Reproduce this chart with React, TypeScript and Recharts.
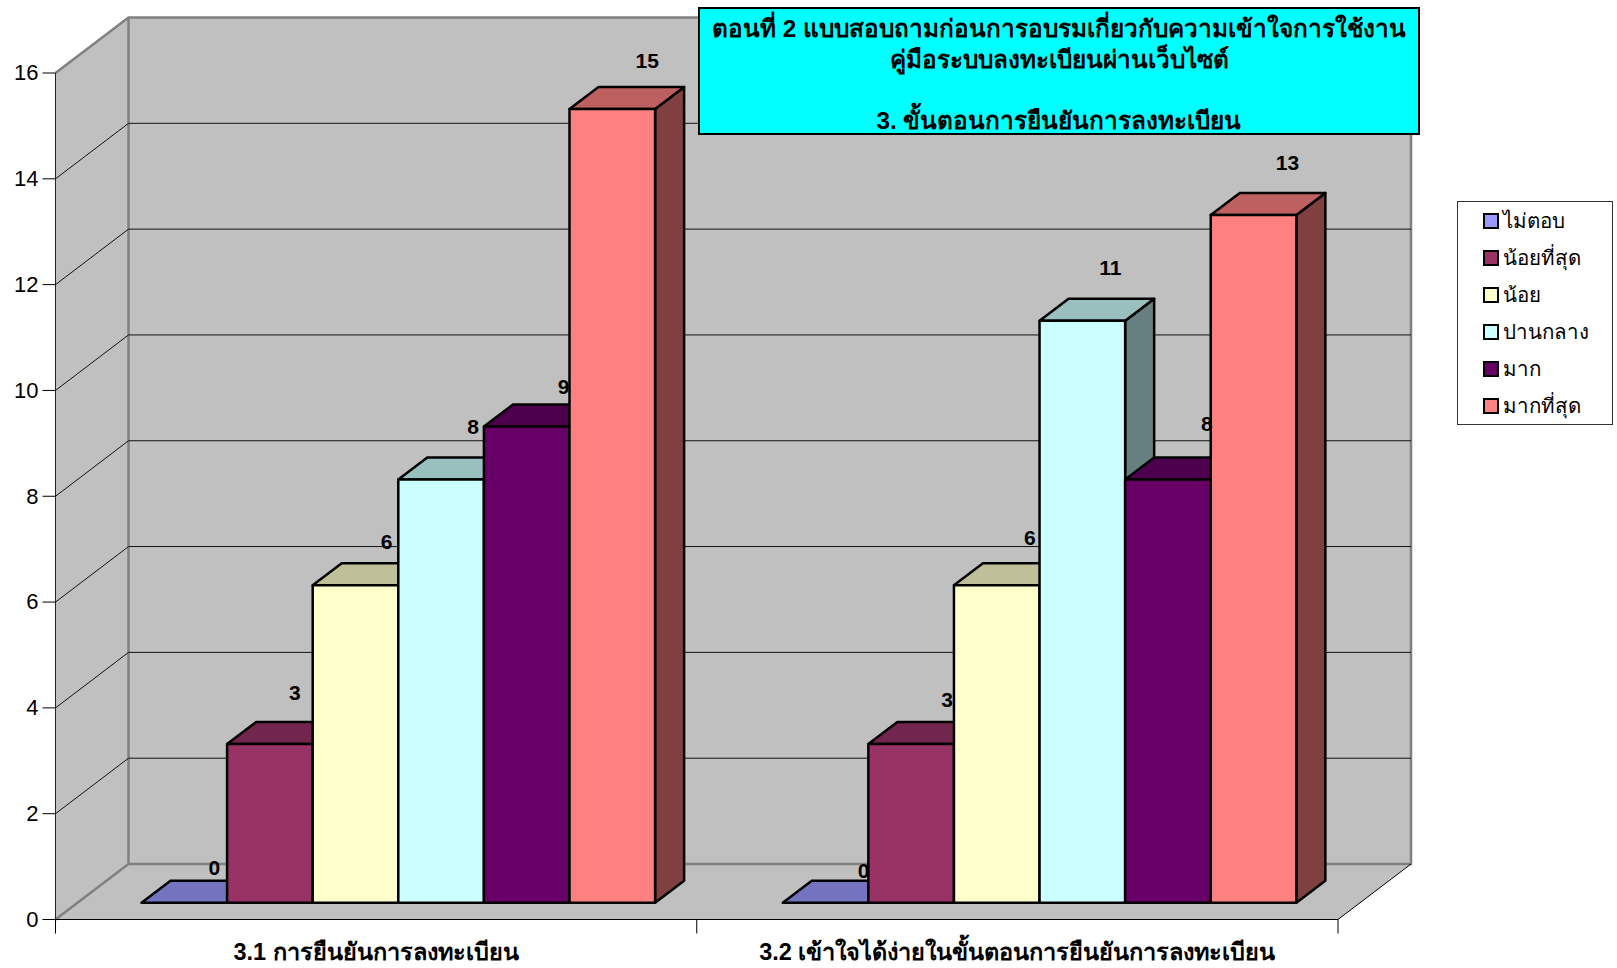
import { BarChart, Bar, XAxis, YAxis, CartesianGrid, Legend, LabelList, usePlotArea } from "recharts";

const categories = [
  "3.1 การยืนยันการลงทะเบียน",
  "3.2 เข้าใจได้ง่ายในขั้นตอนการยืนยันการลงทะเบียน",
];
const seriesNames = ["ไม่ตอบ", "น้อยที่สุด", "น้อย", "ปานกลาง", "มาก", "มากที่สุด"];
const noAnswer = [0, 0];
const leastValues = [3, 3];
const lowValues = [6, 6];
const mediumValues = [8, 11];
const highValues = [9, 8];
const highestValues = [15, 13];
const seriesValues = [noAnswer, leastValues, lowValues, mediumValues, highValues, highestValues];
const seriesColors = ["#9999FF", "#993366", "#FFFFCC", "#CCFFFF", "#660066", "#FF8080"];
const yTicks = [0, 2, 4, 6, 8, 10, 12, 14, 16];

const titleLines = [
  "ตอนที่ 2 แบบสอบถามก่อนการอบรมเกี่ยวกับความเข้าใจการใช้งาน",
  "คู่มือระบบลงทะเบียนผ่านเว็บไซต์",
  "\u00a0",
  "3. ขั้นตอนการยืนยันการลงทะเบียน",
];

// where the labels sit relative to the top centre of each bar: [dx, dy] per category
const labelNudges = [
  [[30, -35], [38, -32]],
  [[25, -51], [36, -44]],
  [[31, -44], [33, -48]],
  [[32, -53], [28, -53]],
  [[37, -40], [39, -56]],
  [[35, -49], [34, -52]],
];

const chartData = categories.map((name, i) => {
  const row: Record<string, string | number> = { name };
  seriesNames.forEach((s, j) => {
    row[s] = seriesValues[j][i];
  });
  return row;
});

const FONT = '"Liberation Sans", Arial, "Noto Sans", sans-serif';
// floor depth of the fake 3d box, and of each bar
const WALL_DX = 73;
const WALL_DY = 55.5;
const BAR_SHIFT_X = 22;
const BAR_SHIFT_Y = 16.8;
const BAR_DX = 29;
const BAR_DY = 22;
const WALL_GREY = "#808080";

function shade(hex: string, k: number) {
  const n = parseInt(hex.slice(1), 16);
  const c = [(n >> 16) & 255, (n >> 8) & 255, n & 255].map((v) => Math.round(v * k));
  return `rgb(${c[0]},${c[1]},${c[2]})`;
}

function Box3D(props: any) {
  const { x, y, width, height, fill } = props;
  const l = x + BAR_SHIFT_X;
  const r = l + width;
  const t = y - BAR_SHIFT_Y;
  const b = t + height;
  const line = { stroke: "#000", strokeWidth: 2.5, strokeLinejoin: "round" as const };
  return (
    <g>
      <polygon
        points={`${r},${t} ${r + BAR_DX},${t - BAR_DY} ${r + BAR_DX},${b - BAR_DY} ${r},${b}`}
        fill={shade(fill, 0.5)}
        {...line}
      />
      <polygon
        points={`${l},${t} ${l + BAR_DX},${t - BAR_DY} ${r + BAR_DX},${t - BAR_DY} ${r},${t}`}
        fill={shade(fill, 0.75)}
        {...line}
      />
      {height > 0 && <rect x={l} y={t} width={width} height={height} fill={fill} {...line} />}
    </g>
  );
}

function Walls() {
  const plot = usePlotArea();
  if (!plot) return null;
  const left = plot.x;
  const right = plot.x + plot.width;
  const top = plot.y;
  const bottom = plot.y + plot.height;
  const backL = left + WALL_DX;
  const backR = right + WALL_DX;
  const backT = top - WALL_DY;
  const backB = bottom - WALL_DY;
  const mid = (left + right) / 2;
  return (
    <g>
      <polygon points={`${left},${top} ${backL},${backT} ${backL},${backB} ${left},${bottom}`} fill="#C0C0C0" />
      <rect x={backL} y={backT} width={backR - backL} height={backB - backT} fill="#C0C0C0" />
      <polygon points={`${left},${bottom} ${backL},${backB} ${backR},${backB} ${right},${bottom}`} fill="#C0C0C0" />
      <path
        d={`M${left},${top} L${backL},${backT} L${backR},${backT} L${backR},${backB} L${backL},${backB} L${backL},${backT} M${backL},${backB} L${left},${bottom}`}
        fill="none"
        stroke={WALL_GREY}
        strokeWidth={2.5}
      />
      <line x1={right} y1={bottom} x2={backR} y2={backB} stroke="#000" />
      {[left, mid, right].map((x) => (
        <line key={x} x1={x} y1={bottom} x2={x} y2={bottom + 14} stroke="#000" />
      ))}
    </g>
  );
}

function gridLine(props: any) {
  const { x1, x2, y1, index, key } = props;
  const isEdge = y1 < 74 || y1 > 919;
  if (isEdge) return <g key={key ?? index} />;
  return (
    <path
      key={key ?? index}
      d={`M${x1},${y1} L${x1 + WALL_DX},${y1 - WALL_DY} L${x2 + WALL_DX},${y1 - WALL_DY}`}
      fill="none"
      stroke="#111"
      strokeWidth={1}
    />
  );
}

function ValueLabel(props: any, seriesIndex: number) {
  const { x, y, width, value, index } = props;
  const [dx, dy] = labelNudges[seriesIndex][index];
  return (
    <text
      x={x + BAR_SHIFT_X + width / 2 + dx}
      y={y - BAR_SHIFT_Y + dy}
      textAnchor="middle"
      dominantBaseline="central"
      fontFamily={FONT}
      fontWeight="bold"
      fontSize={21}
      fill="#000"
    >
      {value}
    </text>
  );
}

function LegendBox({ payload }: any) {
  return (
    <div style={{ width: 156, height: 224, boxSizing: "border-box", border: "1px solid #333", background: "#fff", padding: "0 0 0 25px" }}>
      {(payload ?? []).map((item: any) => (
        <div key={item.value} style={{ height: 37, display: "flex", alignItems: "center", fontFamily: FONT, fontSize: 20.5, color: "#000" }}>
          <span style={{ width: 12, height: 12, border: "2px solid #000", background: item.color, marginRight: 4, flex: "none" }} />
          {item.value}
        </div>
      ))}
    </div>
  );
}

export default function App() {
  return (
    <div style={{ position: "absolute", left: 0, top: 0, width: 1617, height: 968, background: "#fff" }}>
      <BarChart
        width={1617}
        height={968}
        data={chartData}
        barGap={0}
        barSize={85.6}
        margin={{ top: 73, right: 123, bottom: 0, left: 0 }}
      >
        <Walls />
        <CartesianGrid horizontal={gridLine} vertical={false} zIndex={1} />
        <XAxis
          dataKey="name"
          height={48.5}
          interval={0}
          tickLine={false}
          axisLine={{ stroke: "#000" }}
          tick={{ fontFamily: FONT, fontSize: 23.5, fontWeight: "bold", fill: "#000", dy: 16 }}
        />
        <YAxis
          width={55.5}
          domain={[0, 16]}
          ticks={yTicks}
          interval={0}
          tickSize={13}
          tickMargin={4}
          tickLine={{ stroke: "#000" }}
          axisLine={{ stroke: "#222" }}
          tick={{ fontFamily: FONT, fontSize: 22, fill: "#000", dy: -0.5 }}
        />
        <Legend
          layout="vertical"
          align="right"
          verticalAlign="top"
          itemSorter={null}
          content={<LegendBox />}
          wrapperStyle={{ left: 1457, top: 201, width: 156, height: 224 }}
        />
        {seriesNames.map((s, i) => (
          <Bar key={s} dataKey={s} name={s} fill={seriesColors[i]} shape={Box3D} isAnimationActive={false}>
            <LabelList dataKey={s} content={(p: any) => ValueLabel(p, i)} />
          </Bar>
        ))}
      </BarChart>
      <div
        style={{
          position: "absolute",
          left: 698,
          top: 7,
          width: 722,
          height: 128,
          boxSizing: "border-box",
          border: "2px solid #000",
          background: "#00FFFF",
          textAlign: "center",
          fontFamily: FONT,
          fontWeight: "bold",
          fontSize: 24.3,
          lineHeight: "30.5px",
          paddingTop: 5,
          overflow: "hidden",
        }}
      >
        {titleLines.map((t, i) => (
          <div key={i}>{t}</div>
        ))}
      </div>
    </div>
  );
}
